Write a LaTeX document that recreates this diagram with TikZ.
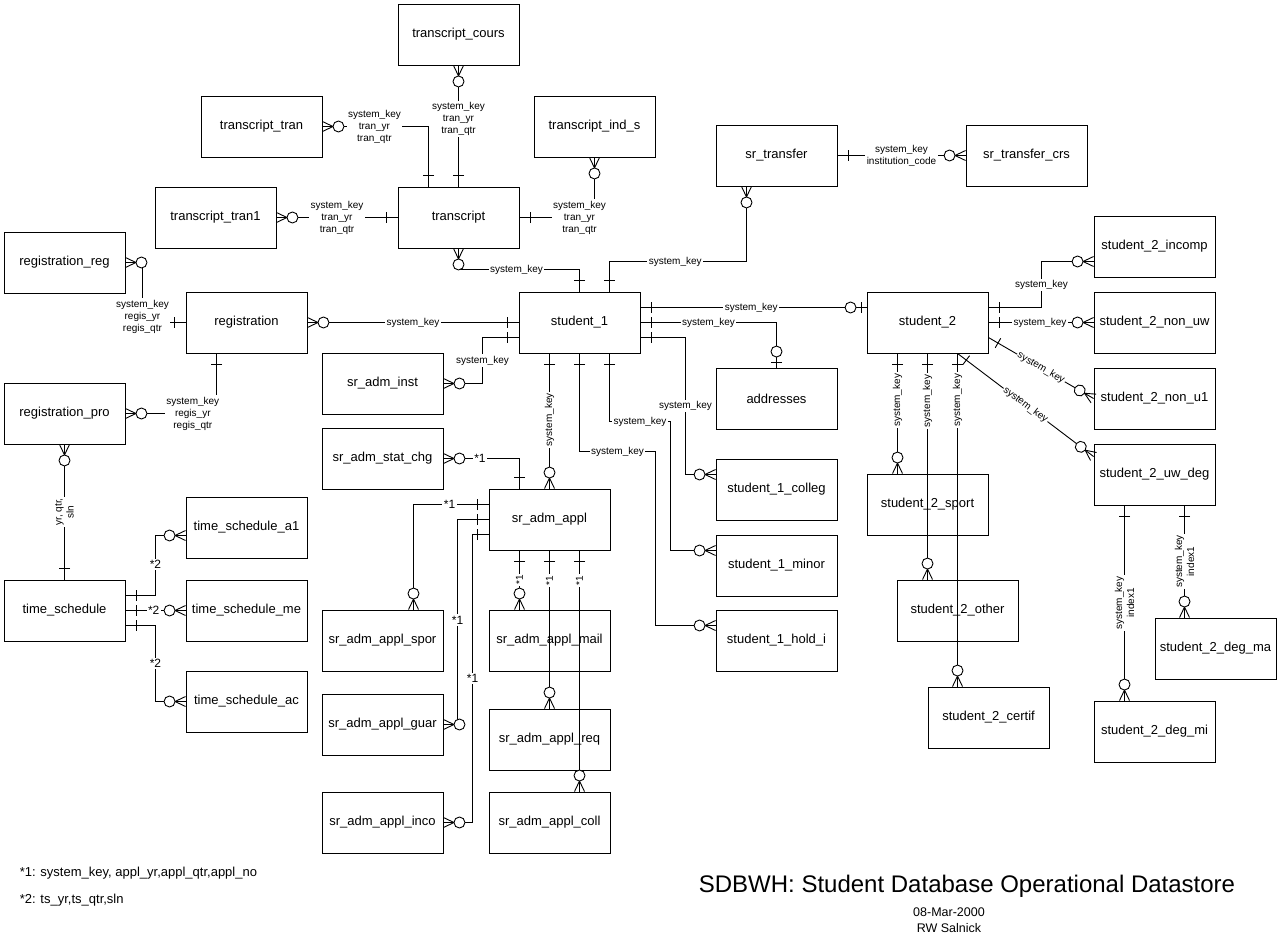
\documentclass[tikz,border=0pt]{standalone}
\usepackage{fontspec}
\setmainfont{Liberation Sans}
\usetikzlibrary{decorations.markings}
\newcommand{\entfont}{\fontsize{13pt}{15pt}\selectfont}
\newcommand{\keyfont}{\fontsize{10pt}{12pt}\selectfont}
\newcommand{\starfont}{\fontsize{12pt}{14pt}\selectfont}
\newcommand{\notefont}{\fontsize{13pt}{15pt}\selectfont}

\begin{document}
\begin{tikzpicture}[
  x=1pt, y=-1pt, line width=0.9pt,
  ent/.style={draw, minimum width=121pt, minimum height=61pt, inner sep=0pt, font=\entfont},
  keylbl/.style={fill=white, inner sep=1.5pt, align=center, font=\keyfont},
  starlbl/.style={fill=white, inner sep=1.5pt, font=\starfont},
  one start/.style={postaction={decorate, decoration={markings,
    mark=at position 11pt with {\draw (0,-5.5) -- (0,5.5);}}}},
  one end/.style={postaction={decorate, decoration={markings,
    mark=at position -11pt with {\draw (0,-5.5) -- (0,5.5);}}}},
  many start/.style={postaction={decorate, decoration={markings,
    mark=at position 0 with {\draw (0,5) -- (10.5,0) -- (0,-5);
      \draw[fill=white] (16,0) circle[radius=5.5pt];}}}},
  many end/.style={postaction={decorate, decoration={markings,
    mark=at position 1 with {\draw (0,5) -- (-10.5,0) -- (0,-5);
      \draw[fill=white] (-16,0) circle[radius=5.5pt];}}}},
  zeroone end/.style={postaction={decorate, decoration={markings,
    mark=at position 1 with {\draw (-5,-5.5) -- (-5,5.5);
      \draw[fill=white] (-16,0) circle[radius=5.5pt];}}}}
]
  \path[fill=white, use as bounding box] (0,0) rectangle (1280,942);

  \node[ent] (trcours) at (458.5,34.5) {transcript\_cours};
  \node[ent] (trtran) at (261.5,126.5) {transcript\_tran};
  \node[ent] (trinds) at (594.5,126.5) {transcript\_ind\_s};
  \node[ent] (trtran1) at (215.5,217.5) {transcript\_tran1};
  \node[ent] (transcript) at (458.5,217.5) {transcript};
  \node[ent] (srtrans) at (776.5,155.5) {sr\_transfer};
  \node[ent] (srtrcrs) at (1026.5,155.5) {sr\_transfer\_crs};
  \node[ent] (regreg) at (64.5,262.5) {registration\_reg};
  \node[ent] (regis) at (246.5,322.5) {registration};
  \node[ent] (regpro) at (64.5,413.5) {registration\_pro};
  \node[ent] (tsched) at (64.5,610.5) {time\_schedule};
  \node[ent] (tsa1) at (246.5,527.5) {time\_schedule\_a1};
  \node[ent] (tsme) at (246.5,610.5) {time\_schedule\_me};
  \node[ent] (tsac) at (246.5,701.5) {time\_schedule\_ac};
  \node[ent] (stu1) at (579.5,322.5) {student\_1};
  \node[ent] (adminst) at (382.5,383.5) {sr\_adm\_inst};
  \node[ent] (admstat) at (382.5,458.5) {sr\_adm\_stat\_chg};
  \node[ent] (appl) at (549.5,519.5) {sr\_adm\_appl};
  \node[ent] (applspor) at (382.5,640.5) {sr\_adm\_appl\_spor};
  \node[ent] (applguar) at (382.5,724.5) {sr\_adm\_appl\_guar};
  \node[ent] (applinco) at (382.5,822.5) {sr\_adm\_appl\_inco};
  \node[ent] (applmail) at (549.5,640.5) {sr\_adm\_appl\_mail};
  \node[ent] (applreq) at (549.5,739.5) {sr\_adm\_appl\_req};
  \node[ent] (applcoll) at (549.5,822.5) {sr\_adm\_appl\_coll};
  \node[ent] (addr) at (776.5,398.5) {addresses};
  \node[ent] (colleg) at (776.5,489.5) {student\_1\_colleg};
  \node[ent] (minor) at (776.5,565.5) {student\_1\_minor};
  \node[ent] (holdi) at (776.5,640.5) {student\_1\_hold\_i};
  \node[ent] (stu2) at (927.5,322.5) {student\_2};
  \node[ent] (incomp) at (1154.5,246.5) {student\_2\_incomp};
  \node[ent] (nonuw) at (1154.5,322.5) {student\_2\_non\_uw};
  \node[ent] (nonu1) at (1154.5,398.5) {student\_2\_non\_u1};
  \node[ent] (uwdeg) at (1154.5,474.5) {student\_2\_uw\_deg};
  \node[ent] (sport) at (927.5,504.5) {student\_2\_sport};
  \node[ent] (other) at (957.5,610.5) {student\_2\_other};
  \node[ent] (certif) at (988.5,717.5) {student\_2\_certif};
  \node[ent] (degma) at (1215.5,648.5) {student\_2\_deg\_ma};
  \node[ent] (degmi) at (1154.5,731.5) {student\_2\_deg\_mi};

  % transcript
  \draw[many start, one end] (trtran.east) -| node[keylbl, pos=0.245] {system\_key\\tran\_yr\\tran\_qtr} ([xshift=-30]transcript.north);
  \draw[many start, one end] (trcours.south) -- node[keylbl, pos=0.44] {system\_key\\tran\_yr\\tran\_qtr} (transcript.north);
  \draw[many start, one end] (trtran1.east) -- node[keylbl] {system\_key\\tran\_yr\\tran\_qtr} (transcript.west);
  \draw[many start, one end] (trinds.south) |- node[keylbl, pos=0.6] {system\_key\\tran\_yr\\tran\_qtr} (transcript.east);
  \draw[many start, one end] (transcript.south) -- ++(0,21) -| node[keylbl, pos=0.24] {system\_key} (stu1.north);
  \draw[one start, many end] ([xshift=30]stu1.north) -- ++(0,-30) -| node[keylbl, pos=0.24] {system\_key} ([xshift=-30]srtrans.south);
  \draw[one start, many end] (srtrans.east) -- node[keylbl] {system\_key\\institution\_code} (srtrcrs.west);

  % registration
  \draw[many start, one end] (regreg.east) -- ++(17,0) |- node[keylbl, pos=0.45] {system\_key\\regis\_yr\\regis\_qtr} (regis.west);
  \draw[one start, many end] ([xshift=-30]regis.south) |- node[keylbl, pos=0.63] {system\_key\\regis\_yr\\regis\_qtr} (regpro.east);
  \draw[many start, one end] (regpro.south) -- node[keylbl, rotate=90] {yr, qtr,\\sln} (tsched.north);
  \draw[many start, one end] (regis.east) -- node[keylbl] {system\_key} (stu1.west);

  % time schedule
  \draw[one start, many end] ([yshift=15]tsched.east) -- ++(30,0) |- node[starlbl, pos=0.26] {*2} ([yshift=-8]tsa1.west);
  \draw[one start, many end] (tsched.east) -- node[starlbl, pos=0.47] {*2} (tsme.west);
  \draw[one start, many end] ([yshift=-15]tsched.east) -- ++(30,0) |- node[starlbl, pos=0.25] {*2} (tsac.west);

  % student_1
  \draw[many start, one end] (adminst.east) -- ++(39,0) |- node[keylbl, pos=0.25] {system\_key} ([yshift=-15]stu1.west);
  \draw[many start, one end] (admstat.east) -| node[starlbl, pos=0.24] {*1} ([xshift=-30]appl.north);
  \draw[one start, many end] ([xshift=-30]stu1.south) -- node[keylbl, rotate=90, pos=0.49] {system\_key} (appl.north);
  \draw[one start, many end] (stu1.south) -- ++(0,98) -- node[keylbl] {system\_key} ++(76,0) |- ([yshift=15]holdi.west);
  \draw[one start, many end] ([xshift=30]stu1.south) -- ++(0,68) -- node[keylbl] {system\_key} ++(61,0) |- ([yshift=15]minor.west);
  \draw[one start, many end] ([yshift=-15]stu1.east) -- ++(45,0) |- node[keylbl, pos=0.25] {system\_key} ([yshift=15]colleg.west);
  \draw[one start, zeroone end] (stu1.east) -| node[keylbl, pos=0.25] {system\_key} (addr.north);
  \draw[one start, zeroone end] ([yshift=15]stu1.east) -- node[keylbl, pos=0.49] {system\_key} ([yshift=15]stu2.west);

  % sr_adm_appl
  \draw[one start, many end] ([yshift=15]appl.west) -| node[starlbl, pos=0.26] {*1} ([xshift=31]applspor.north);
  \draw[one start, many end] (appl.west) -- ++(-31,0) |- node[starlbl, pos=0.245] {*1} (applguar.east);
  \draw[one start, many end] ([yshift=-15]appl.west) -- ++(-16,0) |- node[starlbl, pos=0.25] {*1} (applinco.east);
  \draw[one start, many end] ([xshift=-30]appl.south) -- node[keylbl, rotate=90] {*1} ([xshift=-30]applmail.north);
  \draw[one start, many end] (appl.south) -- node[keylbl, rotate=90, pos=0.19] {*1} (applreq.north);
  \draw[one start, many end] ([xshift=30]appl.south) -- node[keylbl, rotate=90, pos=0.124] {*1} ([xshift=30]applcoll.north);

  % student_2
  \draw[one start, many end] ([yshift=15]stu2.east) -- ++(53,0) |- node[keylbl, pos=0.245] {system\_key} ([yshift=-15]incomp.west);
  \draw[one start, many end] (stu2.east) -- node[keylbl, pos=0.49] {system\_key} (nonuw.west);
  \draw[one start, many end] ([yshift=-15]stu2.east) -- node[keylbl, sloped, inner sep=1pt] {system\_key} (nonu1.west);
  \draw[one start, many end] ([xshift=30]stu2.south) -- node[keylbl, sloped, inner sep=1pt] {system\_key} ([yshift=18]uwdeg.west);
  \draw[one start, many end] ([xshift=-30]stu2.south) -- node[keylbl, rotate=90, pos=0.39] {system\_key} ([xshift=-30]sport.north);
  \draw[one start, many end] (stu2.south) -- node[keylbl, rotate=90, pos=0.21] {system\_key} ([xshift=-30]other.north);
  \draw[one start, many end] ([xshift=30]stu2.south) -- node[keylbl, rotate=90, pos=0.14] {system\_key} ([xshift=-31]certif.north);
  \draw[one start, many end] ([xshift=-30]uwdeg.south) -- node[keylbl, rotate=90] {system\_key\\index1} ([xshift=-30]degmi.north);
  \draw[one start, many end] ([xshift=30]uwdeg.south) -- node[keylbl, rotate=90] {system\_key\\index1} ([xshift=-31]degma.north);

  \node[anchor=west, font=\notefont] (note1) at (16,873) {*1: system\_key, appl\_yr,appl\_qtr,appl\_no};
  \node[anchor=west, font=\notefont] (note2) at (16,900) {*2: ts\_yr,ts\_qtr,sln};
  \node[font=\fontsize{24pt}{28pt}\selectfont] (title) at (967,886) {SDBWH: Student Database Operational Datastore};
  \node[font=\fontsize{12.5pt}{14pt}\selectfont] (date) at (949,912) {08-Mar-2000};
  \node[font=\fontsize{12.5pt}{14pt}\selectfont] (author) at (949,928) {RW Salnick};
\end{tikzpicture}
\end{document}
